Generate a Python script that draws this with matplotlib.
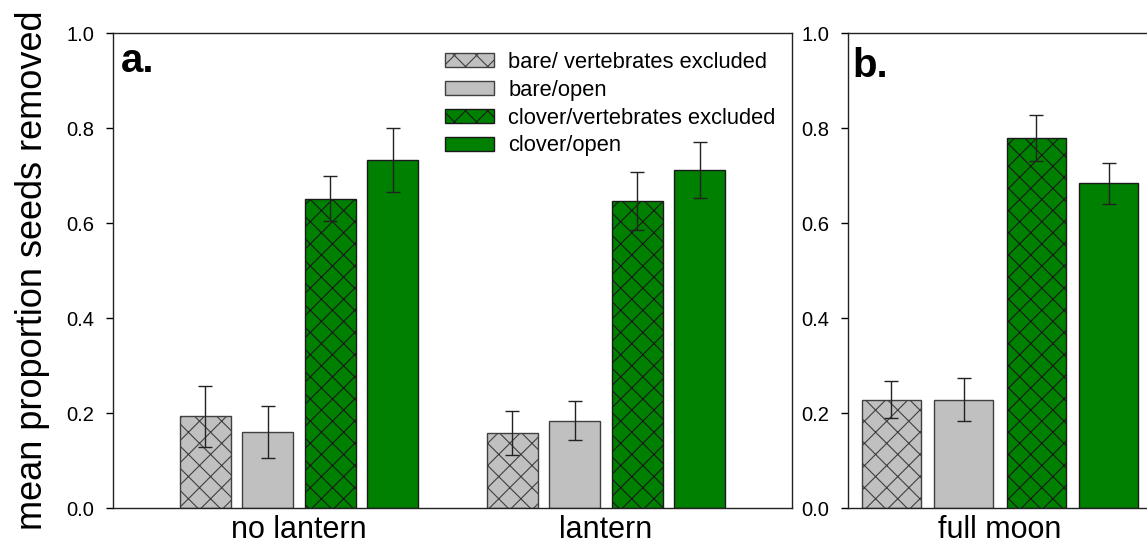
import matplotlib
matplotlib.use('Agg')
import matplotlib.pyplot as plt
import numpy as np

# Data
series = ['bare/ vertebrates excluded', 'bare/open',
          'clover/vertebrates excluded', 'clover/open']
groups_a = ['no lantern', 'lantern']
means_a = [[0.193, 0.158],   # bare/ vertebrates excluded
           [0.160, 0.184],   # bare/open
           [0.651, 0.647],   # clover/vertebrates excluded
           [0.732, 0.712]]   # clover/open
errs_a = [[0.064, 0.047],
          [0.055, 0.041],
          [0.047, 0.061],
          [0.067, 0.059]]
groups_b = ['full moon']
means_b = [[0.228], [0.228], [0.779], [0.684]]
errs_b = [[0.039], [0.045], [0.048], [0.043]]

GRAY = '#C0C0C0'
GREEN = '#008000'
face = [GRAY, GRAY, GREEN, GREEN]
edge = ['#404040', '#404040', '#1a1a1a', '#1a1a1a']
hatches = ['xx', None, 'xx', None]

# render at a higher dpi so the cross hatch is as coarse as the original;
# every size in points is scaled by S to keep pixel sizes the same
DPI = 133
S = 100 / DPI
W, H = 1147, 548

plt.rcParams['font.family'] = ['Liberation Sans', 'DejaVu Sans']
plt.rcParams['hatch.linewidth'] = 0.8 * S

fig = plt.figure(figsize=((W + 0.01) / DPI, (H + 0.01) / DPI), dpi=DPI)
ax_a = fig.add_axes([113 / W, 1 - 508 / H, (792 - 113) / W, (508 - 33) / H])
ax_b = fig.add_axes([848 / W, 1 - 508 / H, (1152 - 848) / W, (508 - 33) / H])

pitch = 0.2035
width = 0.166


def draw(ax, groups, means, errs, xlim):
    xg = np.arange(len(groups))
    for i in range(4):
        x = xg + (i - 1.5) * pitch
        ax.bar(x, means[i], width, color=face[i], edgecolor=edge[i],
               linewidth=1.0 * S, hatch=hatches[i], label=series[i], zorder=2)
        ax.errorbar(x, means[i], yerr=errs[i], fmt='none', ecolor='#222222',
                    elinewidth=1.0 * S, capsize=5 * S, capthick=1.0 * S, zorder=3)
    ax.set_xlim(*xlim)
    ax.set_ylim(0, 1.0)
    ax.set_yticks([0, 0.2, 0.4, 0.6, 0.8, 1.0])
    ax.set_yticklabels(['0.0', '0.2', '0.4', '0.6', '0.8', '1.0'])
    ax.set_xticks(xg)
    ax.set_xticklabels(groups, fontsize=22 * S)
    ax.tick_params(axis='x', length=0, pad=5 * S)
    ax.tick_params(axis='y', direction='out', length=4.75 * S, width=1 * S,
                   labelsize=14.5 * S, pad=8.5 * S)
    for s in ax.spines.values():
        s.set_linewidth(1.0 * S)
        s.set_color('#222222')


draw(ax_a, groups_a, means_a, errs_a, (-0.606, 1.606))
draw(ax_b, groups_b, means_b, errs_b, (-0.427, 0.427))
ax_b.spines['right'].set_visible(False)

ax_a.set_ylabel('mean proportion seeds removed', fontsize=26 * S, labelpad=12 * S)

ax_a.text(0.011, 0.9185, 'a.', transform=ax_a.transAxes, fontsize=29 * S,
          fontweight='bold', va='baseline', ha='left')
ax_b.text(0.013, 0.908, 'b.', transform=ax_b.transAxes, fontsize=29 * S,
          fontweight='bold', va='baseline', ha='left')

ax_a.legend(loc='upper left', bbox_to_anchor=(445 / W, 1 - 52 / H),
            bbox_transform=fig.transFigure, frameon=False, fontsize=15.8 * S,
            handlelength=2.24, handleheight=0.6, handletextpad=0.64,
            labelspacing=0.31, borderaxespad=0, borderpad=0)

fig.savefig('out.png', dpi=DPI, facecolor='white')
